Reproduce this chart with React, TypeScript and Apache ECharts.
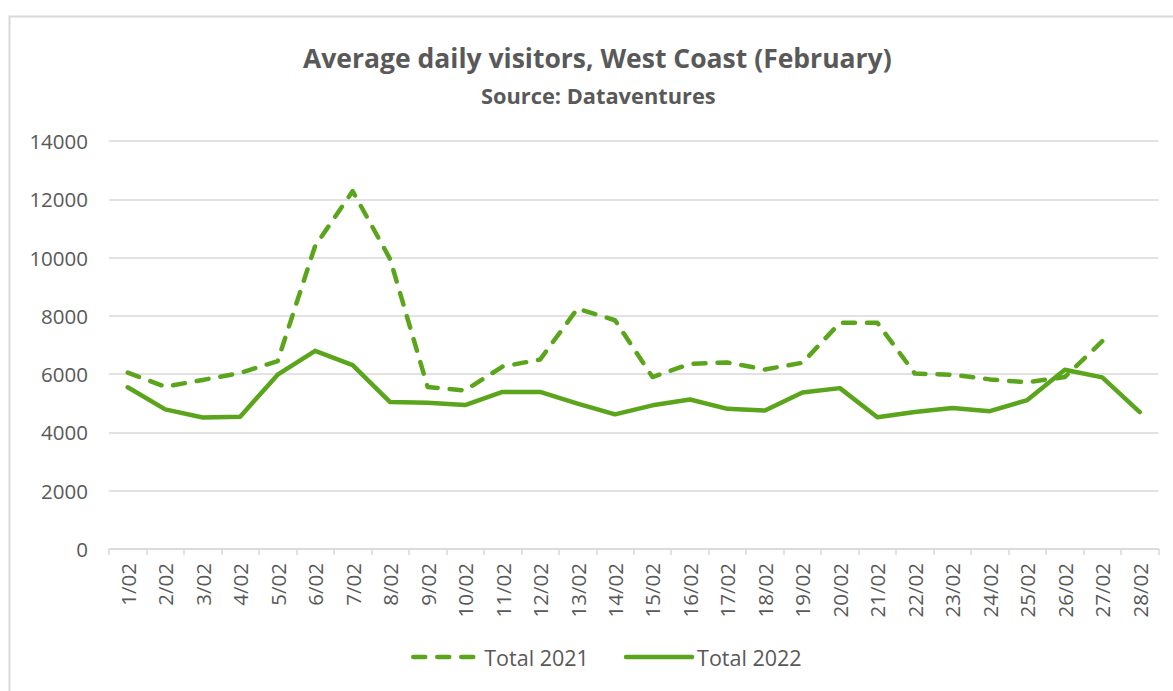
import React, { useEffect, useRef } from "react";
import * as echarts from "echarts";

const categories = [
  "1/02", "2/02", "3/02", "4/02", "5/02", "6/02", "7/02", "8/02", "9/02", "10/02",
  "11/02", "12/02", "13/02", "14/02", "15/02", "16/02", "17/02", "18/02", "19/02", "20/02",
  "21/02", "22/02", "23/02", "24/02", "25/02", "26/02", "27/02", "28/02",
];

const total2021 = [
  6050, 5570, 5800, 6040, 6450, 10400, 12280, 9950, 5560, 5440,
  6260, 6500, 8250, 7850, 5900, 6350, 6400, 6160, 6390, 7760,
  7760, 6020, 5980, 5820, 5720, 5900, 7130, null,
];

const total2022 = [
  5550, 4790, 4510, 4540, 5980, 6800, 6310, 5040, 5020, 4940,
  5390, 5390, 4990, 4620, 4930, 5130, 4810, 4750, 5370, 5520,
  4520, 4700, 4840, 4730, 5110, 6150, 5890, 4700,
];

const yTicks = { min: 0, max: 14000, interval: 2000 };

const FONT = "'Open Sans', 'Noto Sans', sans-serif";
const GREEN = "#5aa51b";
const TEXT = "#595959";
const GRID = "#d9d9d9";

export default function App() {
  const ref = useRef<HTMLDivElement>(null);
  useEffect(() => {
    if (!ref.current) return;
    const chart = echarts.init(ref.current, null, { renderer: "svg" });
    chart.setOption({
      animation: false,
      backgroundColor: "#ffffff",
      textStyle: { fontFamily: FONT },
      title: [
        {
          text: "Average daily visitors, West Coast (February)",
          left: 298,
          top: 39,
          textStyle: { fontFamily: FONT, fontSize: 26.5, fontWeight: "bold", color: TEXT },
        },
        {
          text: "Source: Dataventures",
          left: 476,
          top: 79,
          textStyle: { fontFamily: FONT, fontSize: 21.8, fontWeight: "bold", color: TEXT },
        },
      ],
      graphic: [
        {
          type: "polyline",
          shape: { points: [[9.5, 700], [9.5, 16.5], [1180, 16.5]] },
          style: { stroke: GRID, lineWidth: 2, fill: "none" },
          silent: true,
        },
      ],
      legend: {
        bottom: 18,
        left: 406,
        itemWidth: 66,
        itemHeight: 14,
        itemGap: 35,
        itemStyle: { opacity: 0 },
        lineStyle: { width: 4.5, cap: "round" },
        textStyle: { fontFamily: FONT, fontSize: 21.5, color: TEXT },
        data: ["Total 2021", "Total 2022"],
      },
      grid: { left: 109, right: 14.5, top: 141, bottom: 142, containLabel: false },
      xAxis: {
        type: "category",
        data: categories,
        boundaryGap: true,
        axisLine: { show: true, lineStyle: { color: GRID, width: 1.5 } },
        axisTick: { show: true, length: 6, lineStyle: { color: GRID, width: 1.5 }, alignWithLabel: false },
        axisLabel: { rotate: 90, margin: 14, fontFamily: FONT, fontSize: 20.5, color: TEXT, interval: 0 },
        splitLine: { show: false },
      },
      yAxis: {
        type: "value",
        min: yTicks.min,
        max: yTicks.max,
        interval: yTicks.interval,
        axisLine: { show: false },
        axisTick: { show: false },
        axisLabel: { margin: 21, fontFamily: FONT, fontSize: 20.5, color: TEXT, formatter: (v: number) => String(v) },
        splitLine: { show: true, lineStyle: { color: GRID, width: 1.5 } },
      },
      series: [
        {
          name: "Total 2021",
          type: "line",
          data: total2021,
          showSymbol: false,
          symbol: "none",
          connectNulls: false,
          color: GREEN,
          lineStyle: { color: GREEN, width: 4.5, type: [12, 12], cap: "round", join: "round" },
        },
        {
          name: "Total 2022",
          type: "line",
          data: total2022,
          showSymbol: false,
          symbol: "none",
          color: GREEN,
          lineStyle: { color: GREEN, width: 4.5, type: "solid", cap: "round", join: "round" },
        },
      ],
    });
    return () => chart.dispose();
  }, []);
  return (
    <div
      ref={ref}
      style={{ position: "fixed", left: 0, top: 0, width: 1173, height: 691, background: "#fff" }}
    />
  );
}
